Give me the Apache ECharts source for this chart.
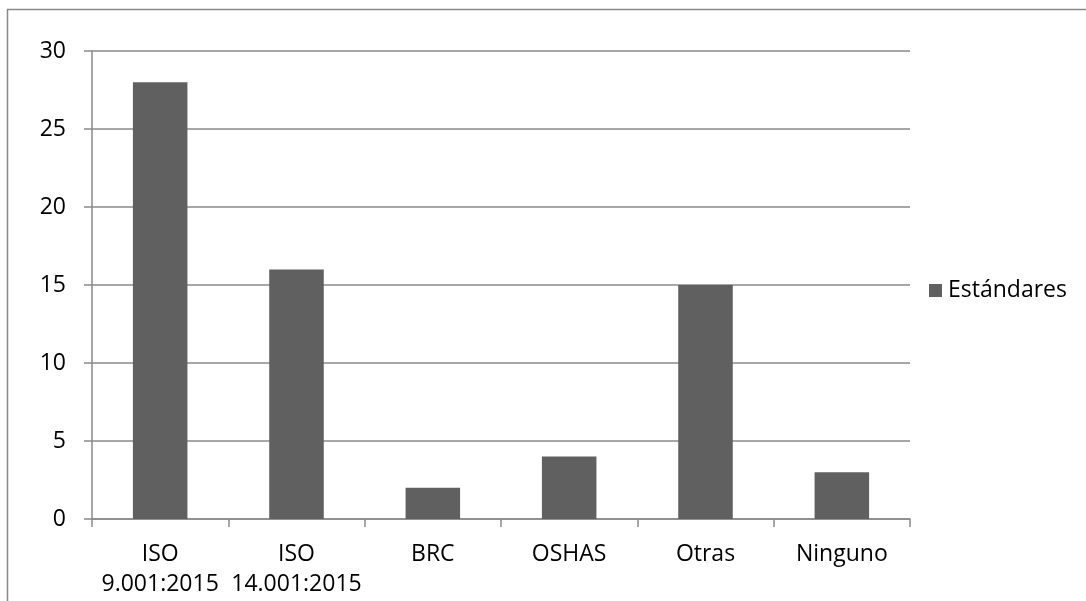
<!DOCTYPE html>
<html>
<head>
<meta charset="utf-8">
<script src="https://cdn.jsdelivr.net/npm/echarts@6/dist/echarts.min.js"></script>
<style>
  html, body { margin: 0; padding: 0; background: #fff; }
  #chart { width: 1086px; height: 601px; }
</style>
</head>
<body>
<div id="chart"></div>
<script>
// Certification standards held, count per standard
const categories = ['ISO\n9.001:2015', 'ISO\n14.001:2015', 'BRC', 'OSHAS', 'Otras', 'Ninguno'];
const estandares = [28, 16, 2, 4, 15, 3];
const seriesName = 'Estándares';
const yTicks = { min: 0, max: 30, interval: 5 };

const FONT = '"Open Sans", "Noto Sans", "Liberation Sans", sans-serif';
const FONT_SIZE = 23;
const GRID_COLOR = '#8a8a8a';
const BAR_COLOR = '#606060';

const chart = echarts.init(document.getElementById('chart'), null, { renderer: 'canvas' });
chart.setOption({
  animation: false,
  backgroundColor: '#ffffff',
  textStyle: { fontFamily: FONT },
  graphic: [{
    type: 'rect',
    shape: { x: 7.5, y: 9.5, width: 1200, height: 800 },
    style: { fill: 'none', stroke: '#8a8a8a', lineWidth: 1.5 },
    silent: true
  }],
  grid: { left: 92, right: 176, top: 51, bottom: 82, containLabel: false },
  legend: {
    data: [seriesName],
    left: 929,
    top: 279,
    orient: 'vertical',
    icon: 'rect',
    itemWidth: 13,
    itemHeight: 13,
    itemGap: 6,
    padding: 0,
    textStyle: { fontFamily: FONT, fontSize: FONT_SIZE, color: '#000', padding: [0, 0, 0, 1] }
  },
  xAxis: {
    type: 'category',
    data: categories,
    boundaryGap: true,
    axisLine: { lineStyle: { color: GRID_COLOR, width: 1.5 } },
    axisTick: { show: true, length: 8, alignWithLabel: false, lineStyle: { color: GRID_COLOR, width: 1.5 } },
    axisLabel: {
      interval: 0,
      margin: 20,
      fontFamily: FONT,
      fontSize: FONT_SIZE,
      color: '#000',
      lineHeight: 30
    }
  },
  yAxis: {
    type: 'value',
    min: yTicks.min,
    max: yTicks.max,
    interval: yTicks.interval,
    axisLine: { show: true, lineStyle: { color: GRID_COLOR, width: 1.5 } },
    axisTick: { show: true, length: 8, lineStyle: { color: GRID_COLOR, width: 1.5 } },
    splitLine: { show: true, lineStyle: { color: GRID_COLOR, width: 1.5 } },
    axisLabel: { margin: 26, fontFamily: FONT, fontSize: FONT_SIZE, color: '#000' }
  },
  series: [{
    name: seriesName,
    type: 'bar',
    data: estandares,
    barWidth: '40%',
    itemStyle: { color: BAR_COLOR }
  }]
});
</script>
</body>
</html>
